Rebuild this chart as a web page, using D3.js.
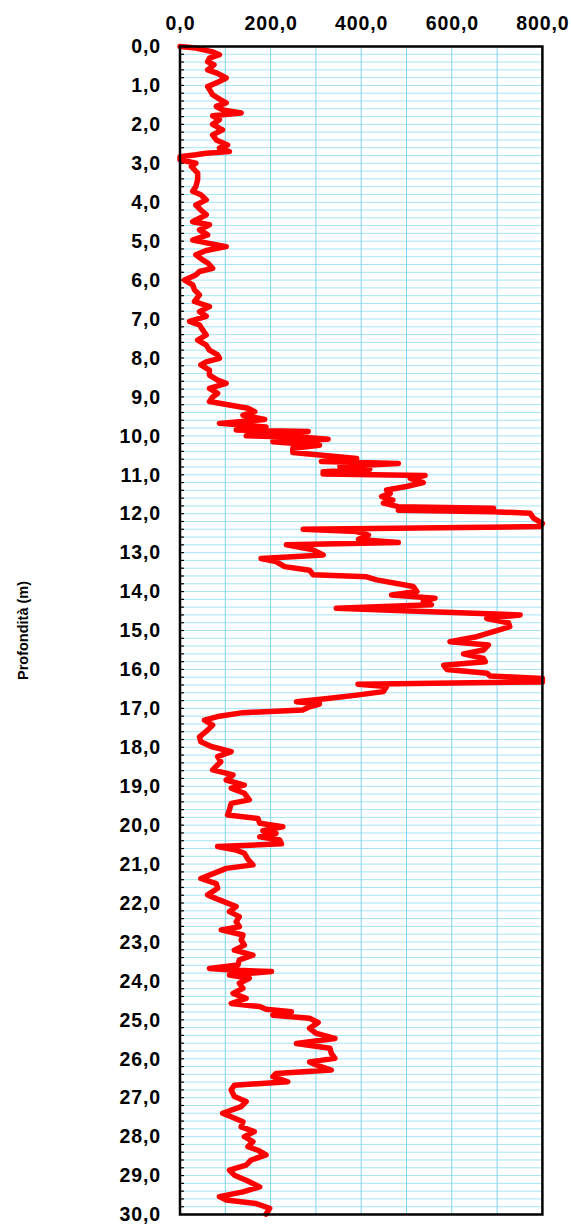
<!DOCTYPE html>
<html>
<head>
<meta charset="utf-8">
<script src="https://cdn.jsdelivr.net/npm/d3@7"></script>
<style>
  body { margin: 0; background: #fff; }
  svg text { font-family: Arial, "Liberation Sans", sans-serif; font-weight: bold; fill: #000; }
</style>
</head>
<body>
<svg width="571" height="1224"></svg>
<script>
// depth (m) and resistance profile
var depth = [0, 0.04, 0.13, 0.21, 0.3, 0.39, 0.47, 0.6, 0.69, 0.81, 0.9, 1.03, 1.16, 1.24, 1.37, 1.45, 1.54, 1.63, 1.71, 1.78, 1.88, 2.0, 2.14, 2.27, 2.4, 2.53, 2.61, 2.7, 2.74, 2.78, 2.83, 2.91, 3.0, 3.08, 3.25, 3.42, 3.6, 3.72, 3.81, 3.94, 4.07, 4.2, 4.32, 4.5, 4.58, 4.71, 4.84, 4.97, 5.05, 5.14, 5.24, 5.35, 5.48, 5.56, 5.7, 5.78, 5.87, 6.0, 6.12, 6.25, 6.38, 6.55, 6.68, 6.81, 6.93, 7.06, 7.15, 7.28, 7.41, 7.54, 7.67, 7.8, 7.92, 8.01, 8.1, 8.18, 8.31, 8.44, 8.57, 8.65, 8.78, 8.91, 9.0, 9.12, 9.21, 9.29, 9.38, 9.47, 9.58, 9.68, 9.77, 9.85, 9.89, 9.95, 10.0, 10.04, 10.09, 10.15, 10.24, 10.32, 10.43, 10.49, 10.58, 10.66, 10.71, 10.79, 10.86, 10.92, 10.98, 11.02, 11.09, 11.2, 11.3, 11.39, 11.48, 11.56, 11.65, 11.73, 11.82, 11.86, 11.91, 11.95, 11.99, 12.12, 12.25, 12.33, 12.4, 12.46, 12.55, 12.66, 12.74, 12.8, 12.93, 13.06, 13.15, 13.23, 13.36, 13.45, 13.57, 13.62, 13.7, 13.87, 14.0, 14.09, 14.17, 14.26, 14.34, 14.43, 14.51, 14.6, 14.69, 14.8, 14.9, 15.03, 15.16, 15.29, 15.37, 15.5, 15.6, 15.72, 15.8, 15.89, 16.0, 16.1, 16.17, 16.23, 16.32, 16.38, 16.44, 16.57, 16.66, 16.74, 16.83, 16.89, 16.96, 17.04, 17.11, 17.21, 17.3, 17.43, 17.56, 17.73, 17.86, 17.98, 18.11, 18.24, 18.37, 18.58, 18.71, 18.84, 18.97, 19.05, 19.18, 19.35, 19.44, 19.61, 19.74, 19.83, 19.95, 20.04, 20.14, 20.21, 20.3, 20.38, 20.48, 20.55, 20.64, 20.72, 20.88, 21.02, 21.11, 21.2, 21.37, 21.5, 21.62, 21.79, 21.92, 22.09, 22.22, 22.35, 22.48, 22.61, 22.69, 22.82, 22.95, 23.08, 23.21, 23.34, 23.46, 23.59, 23.68, 23.72, 23.76, 23.85, 23.93, 24.06, 24.19, 24.32, 24.45, 24.58, 24.66, 24.73, 24.79, 24.88, 24.96, 25.07, 25.22, 25.35, 25.48, 25.61, 25.73, 25.86, 25.99, 26.08, 26.16, 26.29, 26.38, 26.46, 26.59, 26.68, 26.8, 26.97, 27.1, 27.23, 27.4, 27.49, 27.62, 27.75, 27.87, 28.0, 28.13, 28.26, 28.35, 28.47, 28.6, 28.73, 28.86, 28.99, 29.12, 29.29, 29.42, 29.54, 29.63, 29.72, 29.84, 29.99];
var resistance = [0, 35, 70, 87, 65, 61, 75, 61, 83, 102, 87, 61, 68, 72, 90, 102, 80, 95, 135, 72, 87, 72, 94, 72, 80, 105, 87, 109, 58, 35, 0, 0, 35, 25, 39, 39, 35, 28, 46, 58, 35, 46, 58, 28, 65, 43, 61, 28, 61, 102, 58, 35, 50, 61, 72, 43, 35, 10, 28, 32, 43, 32, 65, 43, 58, 21, 43, 50, 58, 39, 58, 65, 83, 87, 58, 46, 65, 65, 83, 102, 65, 83, 72, 65, 109, 150, 165, 139, 187, 87, 190, 124, 283, 205, 146, 279, 327, 205, 308, 249, 249, 308, 390, 312, 482, 353, 419, 316, 316, 541, 508, 537, 500, 456, 464, 445, 470, 449, 482, 692, 482, 692, 773, 781, 800, 795, 272, 390, 416, 394, 482, 235, 294, 316, 179, 212, 231, 286, 294, 412, 434, 515, 523, 467, 563, 537, 555, 345, 538, 751, 677, 725, 728, 692, 655, 596, 681, 670, 626, 670, 674, 582, 589, 678, 685, 800, 800, 393, 456, 449, 390, 331, 257, 308, 286, 271, 139, 83, 54, 72, 61, 43, 46, 69, 113, 83, 90, 72, 117, 102, 142, 113, 142, 153, 113, 109, 105, 172, 176, 227, 183, 212, 176, 220, 224, 83, 124, 142, 150, 161, 102, 83, 46, 80, 83, 61, 87, 124, 109, 131, 124, 131, 91, 139, 135, 142, 120, 161, 131, 128, 65, 113, 202, 109, 153, 131, 139, 117, 146, 113, 176, 190, 246, 205, 286, 305, 286, 301, 342, 257, 331, 334, 342, 286, 301, 334, 212, 205, 238, 120, 113, 120, 146, 135, 94, 113, 139, 135, 164, 142, 161, 150, 172, 190, 157, 146, 109, 120, 146, 176, 139, 87, 102, 168, 198, 190];

var xTicks = [0, 200, 400, 600, 800];
var yTicks = d3.range(0, 31, 1);

var svg = d3.select("svg");
var plotLeft = 180, plotRight = 542.4, plotTop = 46.5, plotBottom = 1214.5;

var x = d3.scaleLinear().domain([0, 800]).range([plotLeft, plotRight]);
var y = d3.scaleLinear().domain([0, 30]).range([plotTop, plotBottom]);
var fmt = function(d) { return d3.format(".1f")(d).replace(".", ","); };

// grid
svg.append("g")
  .selectAll("line")
  .data(d3.range(0.2, 30, 0.2))
  .enter().append("line")
    .attr("x1", plotLeft).attr("x2", plotRight)
    .attr("y1", function(d) { return y(d); })
    .attr("y2", function(d) { return y(d); })
    .attr("stroke", "#a6e4f5")
    .attr("stroke-width", 1);

svg.append("g")
  .selectAll("line")
  .data(d3.range(100, 800, 100))
  .enter().append("line")
    .attr("x1", function(d) { return x(d); })
    .attr("x2", function(d) { return x(d); })
    .attr("y1", plotTop).attr("y2", plotBottom)
    .attr("stroke", "#7fd6f0")
    .attr("stroke-width", 1);

// small inner ticks on the depth axis
svg.append("g")
  .selectAll("line")
  .data(d3.range(0.2, 30, 0.2))
  .enter().append("line")
    .attr("x1", plotLeft).attr("x2", plotLeft + 4)
    .attr("y1", function(d) { return y(d); })
    .attr("y2", function(d) { return y(d); })
    .attr("stroke", "#000")
    .attr("stroke-width", 1.2);

// profile
var line = d3.line()
    .x(function(d, i) { return x(resistance[i]); })
    .y(function(d) { return y(d); });

svg.append("path")
    .datum(depth)
    .attr("d", line)
    .attr("fill", "none")
    .attr("stroke", "#ff0000")
    .attr("stroke-width", 5.5)
    .attr("stroke-linejoin", "round")
    .attr("stroke-linecap", "round");

// frame
svg.append("rect")
    .attr("x", plotLeft).attr("y", plotTop)
    .attr("width", plotRight - plotLeft).attr("height", plotBottom - plotTop)
    .attr("fill", "none")
    .attr("stroke", "#000")
    .attr("stroke-width", 2.5);

// axes
var xAxis = d3.axisTop(x).tickValues(xTicks).tickFormat(fmt).tickSize(0).tickPadding(17);
svg.append("g")
    .attr("transform", "translate(0," + plotTop + ")")
    .call(xAxis)
    .call(function(g) { g.select(".domain").remove(); })
    .selectAll("text")
    .style("font-size", "19.5px")
    .style("letter-spacing", "0.9px");

var yAxis = d3.axisLeft(y).tickValues(yTicks).tickFormat(fmt).tickSize(0).tickPadding(19);
svg.append("g")
    .attr("transform", "translate(" + plotLeft + ",0)")
    .call(yAxis)
    .call(function(g) { g.select(".domain").remove(); })
    .selectAll("text")
    .style("font-size", "19.5px")
    .style("letter-spacing", "0.9px");

svg.append("text")
    .attr("transform", "translate(28," + ((plotTop + plotBottom) / 2) + ") rotate(-90)")
    .attr("text-anchor", "middle")
    .style("font-size", "14.5px")
    .text("Profondità (m)");
</script>
</body>
</html>
